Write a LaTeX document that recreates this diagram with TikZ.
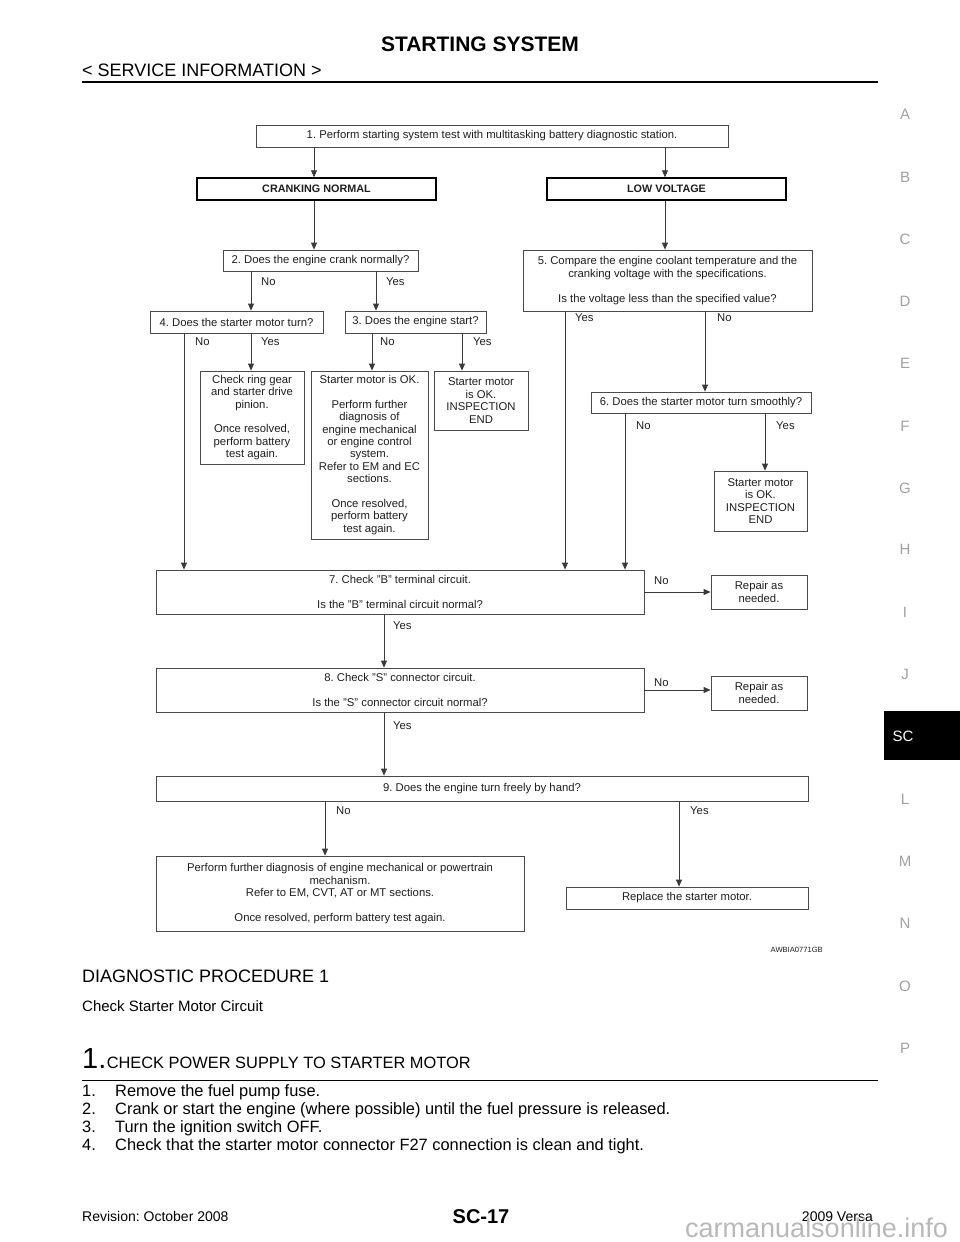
\documentclass[tikz,border=0pt]{standalone}
\usepackage{fontspec}
\setmainfont{Liberation Sans}
\usetikzlibrary{arrows.meta}
\frenchspacing
\definecolor{boxc}{HTML}{4A4A4A}
\definecolor{linec}{HTML}{3A3A3A}
\definecolor{txtc}{HTML}{1E1E1E}
\definecolor{sidec}{HTML}{A0A0A0}
\definecolor{wmc}{HTML}{B8B8B8}
\newcommand\fchart{\fontsize{11.3}{12.4}\selectfont}
\newcommand\fchartb{\fontsize{10.8}{12.4}\selectfont\bfseries}
\newcommand\fsz[2]{\fontsize{#1}{#2}\selectfont}
\tikzset{
  box/.style={draw=boxc, line width=0.8pt, inner sep=0pt, align=center, font=\fchart, text=txtc},
  hbox/.style={box, draw=black, line width=1.4pt, font=\fchartb},
  arr/.style={draw=linec, line width=0.8pt, -{Triangle[length=7pt,width=6pt]}},
  lbl/.style={anchor=west, inner sep=0pt, font=\fchart, text=txtc},
  side/.style={inner sep=0pt, font=\fsz{15}{18}, text=sidec},
  pagetxt/.style={anchor=base west, inner sep=0pt, text=black},
}
\begin{document}
\begin{tikzpicture}[x=1pt,y=-1pt]
\useasboundingbox (0,0) rectangle (960,1242);

% ---------- page header ----------
\node[inner sep=0pt, anchor=base, font=\fsz{21}{24}\bfseries] (title) at (480,51.5) {STARTING SYSTEM};
\node[pagetxt, font=\fsz{18}{21}] (svc) at (82,76) {< SERVICE INFORMATION >};
\coordinate (hl) at (82,82);
\coordinate (hr) at (878,82);
\draw[line width=2.6pt] (hl) -- (hr);

% ---------- side index ----------
\node[side] (sA) at (905,114) {A};
\node[side] (sB) at (905,177) {B};
\node[side] (sC) at (905,239) {C};
\node[side] (sD) at (905,301) {D};
\node[side] (sE) at (905,363) {E};
\node[side] (sF) at (905,426) {F};
\node[side] (sG) at (905,488) {G};
\node[side] (sH) at (905,549) {H};
\node[side] (sI) at (905,612) {I};
\node[side] (sJ) at (905,674) {J};
\node[fill=black, minimum width=76pt, minimum height=49pt, inner sep=0pt] (scbox) at (922,735.5) {};
\node[inner sep=0pt, font=\fsz{15}{18}, text=white] (sSC) at (903,736) {SC};
\node[side] (sL) at (905,799) {L};
\node[side] (sM) at (905,861) {M};
\node[side] (sN) at (905,923) {N};
\node[side] (sO) at (905,986) {O};
\node[side] (sP) at (905,1048) {P};

% ---------- flowchart boxes ----------
\node[box, minimum width=472pt, minimum height=22pt] (b1) at (492,136)
  {1. Perform starting system test with multitasking battery diagnostic station.};
\node[hbox, minimum width=239pt, minimum height=22pt] (cn) at (316.5,189) {CRANKING NORMAL};
\node[hbox, minimum width=239pt, minimum height=22pt] (lv) at (666.5,189) {LOW VOLTAGE};
\node[box, minimum width=195pt, minimum height=21pt] (b2) at (320.5,260.5) {2. Does the engine crank normally?};
\node[box, minimum width=289pt, minimum height=61pt] (b5) at (667.5,280.5)
  {5. Compare the engine coolant temperature and the\\cranking voltage with the specifications.\\[12.4pt]Is the voltage less than the specified value?};
\node[box, minimum width=173pt, minimum height=22pt] (b4) at (236.5,322) {4. Does the starter motor turn?};
\node[box, minimum width=141pt, minimum height=22pt] (b3) at (415.5,322) {3. Does the engine start?};
\node[box, minimum width=104pt, minimum height=93pt] (rg) at (252,417.5)
  {Check ring gear\\and starter drive\\pinion.\\[12.4pt]Once resolved,\\perform battery\\test again.};
\node[box, minimum width=117pt, minimum height=168pt] (so) at (369.5,455)
  {Starter motor is OK.\\[12.4pt]Perform further\\diagnosis of\\engine mechanical\\or engine control\\system.\\Refer to EM and EC\\sections.\\[12.4pt]Once resolved,\\perform battery\\test again.};
\node[box, minimum width=94pt, minimum height=59pt] (ie1) at (481,400.5)
  {Starter motor\\is OK.\\INSPECTION\\END};
\node[box, minimum width=220pt, minimum height=21pt] (b6) at (701,402.5) {6. Does the starter motor turn smoothly?};
\node[box, minimum width=93pt, minimum height=60pt] (ie2) at (760.5,501)
  {Starter motor\\is OK.\\INSPECTION\\END};
\node[box, minimum width=488pt, minimum height=44pt] (b7) at (400,592)
  {7. Check "B" terminal circuit.\\[12.4pt]Is the "B" terminal circuit normal?};
\node[box, minimum width=96pt, minimum height=34pt] (r1) at (759,592) {Repair as\\needed.};
\node[box, minimum width=488pt, minimum height=44pt] (b8) at (400,690)
  {8. Check "S" connector circuit.\\[12.4pt]Is the "S" connector circuit normal?};
\node[box, minimum width=96pt, minimum height=34pt] (r2) at (759,693) {Repair as\\needed.};
\node[box, minimum width=652pt, minimum height=25pt] (b9) at (482,788.5) {9. Does the engine turn freely by hand?};
\node[box, minimum width=368pt, minimum height=75pt] (pf) at (340,893.5)
  {Perform further diagnosis of engine mechanical or powertrain\\mechanism.\\Refer to EM, CVT, AT or MT sections.\\[12.4pt]Once resolved, perform battery test again.};
\node[box, minimum width=242pt, minimum height=22pt] (rp) at (687,898) {Replace the starter motor.};
\node[anchor=east, inner sep=0pt, font=\fsz{7.6}{9}, text=txtc] (code) at (823,950) {AWBIA0771GB};

% ---------- connector columns ----------
\coordinate (x184) at (184,0);
\coordinate (x251) at (251,0);
\coordinate (x314) at (314,0);
\coordinate (x325) at (325,0);
\coordinate (x372) at (372,0);
\coordinate (x376) at (376,0);
\coordinate (x384) at (384,0);
\coordinate (x462) at (462,0);
\coordinate (x565) at (565,0);
\coordinate (x625) at (625,0);
\coordinate (x665) at (665,0);
\coordinate (x679) at (679,0);
\coordinate (x705) at (705,0);
\coordinate (x765) at (765,0);

\draw[arr] (b1.south -| x314) -- (cn.north -| x314);
\draw[arr] (b1.south -| x665) -- (lv.north -| x665);
\draw[arr] (cn.south -| x314) -- (b2.north -| x314);
\draw[arr] (lv.south -| x665) -- (b5.north -| x665);
\draw[arr] (b2.south -| x251) -- (b4.north -| x251);
\draw[arr] (b2.south -| x376) -- (b3.north -| x376);
\draw[arr] (b4.south -| x184) -- (b7.north -| x184);
\draw[arr] (b4.south -| x251) -- (rg.north -| x251);
\draw[arr] (b3.south -| x372) -- (so.north -| x372);
\draw[arr] (b3.south -| x462) -- (ie1.north -| x462);
\draw[arr] (b5.south -| x565) -- (b7.north -| x565);
\draw[arr] (b5.south -| x705) -- (b6.north -| x705);
\draw[arr] (b6.south -| x625) -- (b7.north -| x625);
\draw[arr] (b6.south -| x765) -- (ie2.north -| x765);
\draw[arr] (b7.east) -- (r1.west |- b7.east);
\draw[arr] (b7.south -| x384) -- (b8.north -| x384);
\draw[arr] (b8.east) -- (r2.west |- b8.east);
\draw[arr] (b8.south -| x384) -- (b9.north -| x384);
\draw[arr] (b9.south -| x325) -- (pf.north -| x325);
\draw[arr] (b9.south -| x679) -- (rp.north -| x679);

% ---------- connector labels ----------
\node[lbl] (l1) at (261,282) {No};
\node[lbl] (l2) at (386,282) {Yes};
\node[lbl] (l3) at (195,342) {No};
\node[lbl] (l4) at (261,342) {Yes};
\node[lbl] (l5) at (380,342) {No};
\node[lbl] (l6) at (473,342) {Yes};
\node[lbl] (l7) at (575,318) {Yes};
\node[lbl] (l8) at (717,318) {No};
\node[lbl] (l9) at (636,426) {No};
\node[lbl] (l10) at (776,426) {Yes};
\node[lbl] (l11) at (654,581) {No};
\node[lbl] (l12) at (393,626) {Yes};
\node[lbl] (l13) at (654,683) {No};
\node[lbl] (l14) at (393,726) {Yes};
\node[lbl] (l15) at (336,811) {No};
\node[lbl] (l16) at (690,811) {Yes};

% ---------- page body ----------
\node[pagetxt, font=\fsz{18}{21}] (dp) at (82,982) {DIAGNOSTIC PROCEDURE 1};
\node[pagetxt, font=\fsz{15}{18}] (csm) at (82,1011) {Check Starter Motor Circuit};
\node[pagetxt, font=\fsz{29}{32}] (one) at (82,1068) {1.};
\node[pagetxt, font=\fsz{16.4}{19}] (chk) at (one.base east) {CHECK POWER SUPPLY TO STARTER MOTOR};
\coordinate (rl) at (82,1080);
\coordinate (rr) at (878,1080);
\draw[line width=1pt] (rl) -- (rr);
\node[pagetxt, font=\fsz{16.4}{19}] (n1) at (82,1096) {1.};
\node[pagetxt, font=\fsz{16.4}{19}] (t1) at (115,1096) {Remove the fuel pump fuse.};
\node[pagetxt, font=\fsz{16.4}{19}] (n2) at (82,1114) {2.};
\node[pagetxt, font=\fsz{16.4}{19}] (t2) at (115,1114) {Crank or start the engine (where possible) until the fuel pressure is released.};
\node[pagetxt, font=\fsz{16.4}{19}] (n3) at (82,1132) {3.};
\node[pagetxt, font=\fsz{16.4}{19}] (t3) at (115,1132) {Turn the ignition switch OFF.};
\node[pagetxt, font=\fsz{16.4}{19}] (n4) at (82,1150) {4.};
\node[pagetxt, font=\fsz{16.4}{19}] (t4) at (115,1150) {Check that the starter motor connector F27 connection is clean and tight.};

% ---------- footer ----------
\node[pagetxt, font=\fsz{14}{17}] (rev) at (82,1221) {Revision: October 2008};
\node[inner sep=0pt, anchor=base, font=\fsz{20}{23}\bfseries] (pg) at (481,1223) {SC-17};
\node[anchor=base east, inner sep=0pt, font=\fsz{14}{17}] (ver) at (873,1221) {2009 Versa};
\node[anchor=base west, inner sep=0pt, font=\fsz{27}{30}, text=wmc] (wm) at (685,1237) {carmanualsonline.info};
\end{tikzpicture}
\end{document}
